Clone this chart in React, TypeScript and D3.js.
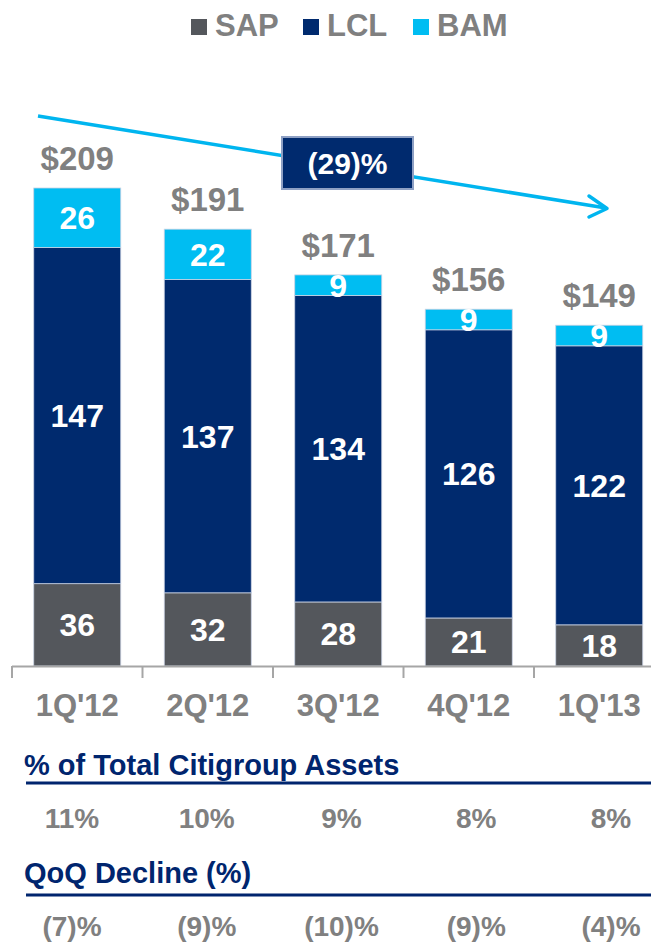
import * as d3 from "d3";
import React from "react";

const quarters = ["1Q'12", "2Q'12", "3Q'12", "4Q'12", "1Q'13"];
const sap = [36, 32, 28, 21, 18];
const lcl = [147, 137, 134, 126, 122];
const bam = [26, 22, 9, 9, 9];
const totals = [209, 191, 171, 156, 149];
const pctAssets = ["11%", "10%", "9%", "8%", "8%"];
const qoqDecline = ["(7)%", "(9)%", "(10)%", "(9)%", "(4)%"];
const trendLabel = "(29)%";

const seriesNames = ["SAP", "LCL", "BAM"];
const colors: Record<string, string> = { SAP: "#54575c", LCL: "#002a6e", BAM: "#00bdf2" };

const font = "'Liberation Sans', Arial, sans-serif";
const grayText = "#808080";
const navyText = "#00256e";

export default function App() {
    const width = 651;
    const height = 944;

    const x = d3.scaleBand<string>()
        .domain(quarters)
        .range([12, 12 + 130.5 * 5])
        .paddingInner(1 / 3)
        .paddingOuter(1 / 6);
    const step = x.step();
    const bandStart = 12;

    const y = d3.scaleLinear().domain([0, 209]).range([666, 188]);

    const table = quarters.map((q, i) => ({ q, SAP: sap[i], LCL: lcl[i], BAM: bam[i] }));
    const stack = d3.stack<any>().keys(seriesNames)(table);

    const xPct = d3.scalePoint<string>().domain(quarters).range([72, 611]);

    const arrow = d3.line()([[38, 116], [606, 208]]);
    const head = d3.line()([[589, 196], [607, 208.5], [589, 217]]);

    return (
        <svg width={width} height={height} style={{ position: "absolute", left: 0, top: 0, background: "#fff" }} fontFamily={font} fontWeight="bold">
            {/* legend */}
            {seriesNames.map((s, i) => {
                const lx = [191, 303, 413][i];
                return (
                    <g key={s}>
                        <rect x={lx} y={19} width={16} height={16} fill={colors[s]} />
                        <text x={lx + 24} y={36} fontSize={31} fill={grayText}>{s}</text>
                    </g>
                );
            })}

            {/* stacked bars */}
            {stack.map((layer) => (
                <g key={layer.key}>
                    {layer.map((d, i) => {
                        const top = y(d[1]);
                        const bot = y(d[0]);
                        const mid = (top + bot) / 2;
                        const v = d[1] - d[0];
                        return (
                            <g key={i}>
                                <rect x={x(quarters[i])} y={top} width={x.bandwidth()} height={bot - top}
                                    fill={colors[layer.key]} stroke="#c9d2e3" strokeWidth={0.8} />
                                <text x={(x(quarters[i]) ?? 0) + x.bandwidth() / 2} y={mid + 11.5}
                                    textAnchor="middle" fontSize={32} fill="#fff">{v}</text>
                            </g>
                        );
                    })}
                </g>
            ))}

            {/* totals */}
            {totals.map((t, i) => (
                <text key={i} x={(x(quarters[i]) ?? 0) + x.bandwidth() / 2} y={y(t) - 18}
                    textAnchor="middle" fontSize={33} fill={grayText}>${t}</text>
            ))}

            {/* axis */}
            <line x1={bandStart} x2={width} y1={666.5} y2={666.5} stroke="#a6a6a6" strokeWidth={2} />
            {d3.range(6).map((i) => (
                <line key={i} x1={bandStart + i * step} x2={bandStart + i * step} y1={666} y2={678} stroke="#a6a6a6" strokeWidth={2} />
            ))}
            {quarters.map((q) => (
                <text key={q} x={(x(q) ?? 0) + x.bandwidth() / 2} y={716} textAnchor="middle" fontSize={31} fill={grayText}>{q}</text>
            ))}

            {/* trend arrow */}
            <path d={arrow ?? ""} stroke="#00b5ef" strokeWidth={3.5} fill="none" />
            <path d={head ?? ""} stroke="#00b5ef" strokeWidth={3.5} fill="none" strokeLinecap="round" strokeLinejoin="round" />
            <rect x={282} y={137} width={131} height={52} fill="#002a6e" stroke="#8ea0c4" strokeWidth={2} />
            <text x={347.5} y={174} textAnchor="middle" fontSize={30} fill="#fff">{trendLabel}</text>

            {/* % of total assets */}
            <text x={24} y={775} fontSize={29} fill={navyText}>% of Total Citigroup Assets</text>
            <line x1={26} x2={width} y1={783} y2={783} stroke={navyText} strokeWidth={3} />
            {pctAssets.map((p, i) => (
                <text key={i} x={xPct(quarters[i])} y={828} textAnchor="middle" fontSize={28} fill={grayText}>{p}</text>
            ))}

            {/* QoQ decline */}
            <text x={24} y={883} fontSize={29} fill={navyText}>QoQ Decline (%)</text>
            <line x1={26} x2={width} y1={895} y2={895} stroke={navyText} strokeWidth={3} />
            {qoqDecline.map((p, i) => (
                <text key={i} x={xPct(quarters[i])} y={936} textAnchor="middle" fontSize={28} fill={grayText}>{p}</text>
            ))}
        </svg>
    );
}
